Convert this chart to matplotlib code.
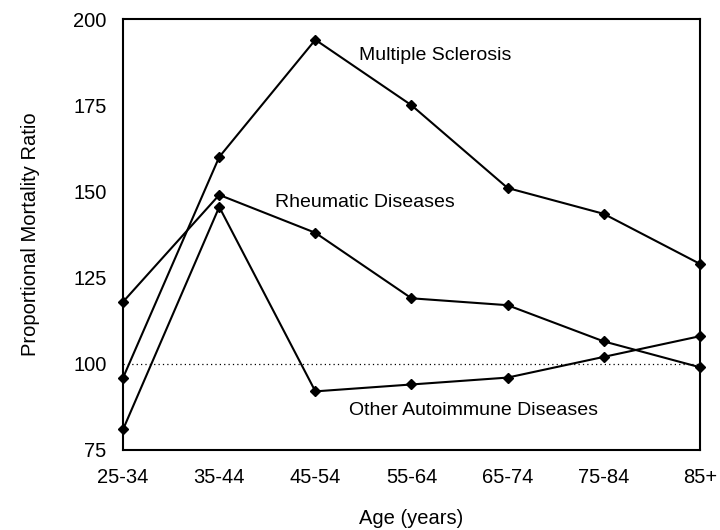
import matplotlib.pyplot as plt
import numpy as np

plt.rcParams['font.family'] = ['Liberation Sans', 'DejaVu Sans']

ages = ['25-34', '35-44', '45-54', '55-64', '65-74', '75-84', '85+']
ms = [96, 160, 194, 175, 151, 143.5, 129]          # Multiple Sclerosis
rheum = [118, 149, 138, 119, 117, 106.5, 99]       # Rheumatic Diseases
other = [81, 145.5, 92, 94, 96, 102, 108]          # Other Autoimmune Diseases

x = np.arange(len(ages))

fig = plt.figure(figsize=(7.2, 5.3), dpi=100)
ax = fig.add_axes([0.171, 0.151, 0.801, 0.813])

ax.axhline(100, color='black', linestyle=(0, (1, 2.5)), linewidth=0.9)

for y in [ms, rheum, other]:
    ax.plot(x, y, color='black', linewidth=1.5, marker='D', markersize=5.5, clip_on=False)

ax.text(2.45, 189.5, 'Multiple Sclerosis', fontsize=14, va='center')
ax.text(1.58, 146.8, 'Rheumatic Diseases', fontsize=14, va='center')
ax.text(2.35, 86.5, 'Other Autoimmune Diseases', fontsize=14, va='center')

ax.set_xlim(0, len(ages) - 1)
ax.set_ylim(75, 200)
ax.set_xticks(x)
ax.set_xticklabels(ages)
ax.set_yticks([75, 100, 125, 150, 175, 200])
ax.tick_params(length=0, labelsize=14.5)
ax.tick_params(axis='x', pad=13)
ax.tick_params(axis='y', pad=12)
for s in ax.spines.values():
    s.set_linewidth(1.5)

ax.set_xlabel('Age (years)', fontsize=14.5, labelpad=16)
ax.set_ylabel('Proportional Mortality Ratio', fontsize=14.5, labelpad=24)

fig.savefig('out.png', dpi=100)
